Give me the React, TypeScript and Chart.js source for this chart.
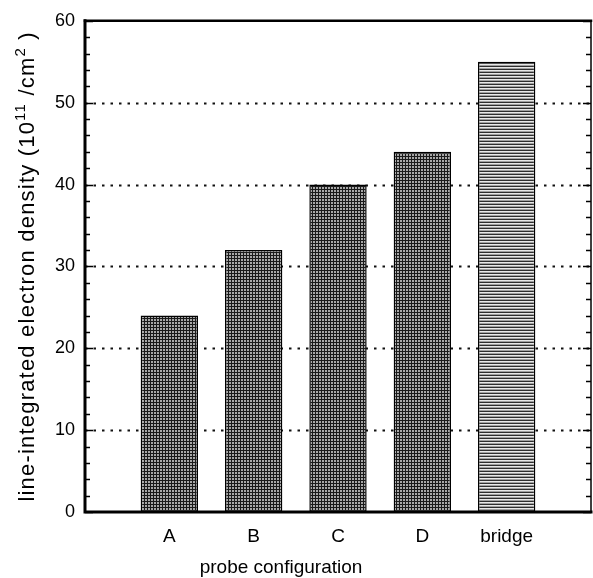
import React, { useEffect, useRef } from "react";
import { Chart, registerables } from "chart.js";

Chart.register(...registerables);

// ---- data ----
const categories = ["A", "B", "C", "D", "bridge"];
const categoryPositions = [1, 2, 3, 4, 5];
const densities = [24, 32, 40, 44, 55];
const gridValues = [10, 20, 30, 40, 50];
const yMin = 0;
const yMax = 60;
const yStep = 10;
const yMinorStep = 2;
const xMin = 0;
const xMax = 6;
const xTitle = "probe configuration";
const yTitleParts = [
  { text: "line-integrated electron density (10", sup: false },
  { text: "11", sup: true },
  { text: " /cm", sup: false },
  { text: "2", sup: true },
  { text: " )", sup: false },
];

const FONT = "'Liberation Sans', Arial, Helvetica, sans-serif";

function makeTile(w: number, h: number, draw: (c: CanvasRenderingContext2D) => void) {
  const cv = document.createElement("canvas");
  cv.width = w;
  cv.height = h;
  const c = cv.getContext("2d")!;
  draw(c);
  return cv;
}

const framePlugin = {
  id: "frame",
  beforeDatasetsDraw(chart: any) {
    const { ctx, chartArea: a, scales } = chart;
    const y = scales.y;
    ctx.save();
    ctx.strokeStyle = "#111";
    ctx.lineWidth = 2;
    ctx.setLineDash([2.5, 6]);
    for (const v of gridValues) {
      const py = Math.round(y.getPixelForValue(v)) + 0.5;
      ctx.beginPath();
      ctx.moveTo(a.left, py);
      ctx.lineTo(a.right, py);
      ctx.stroke();
    }
    ctx.restore();
  },
  afterDatasetsDraw(chart: any) {
    const { ctx, chartArea: a, scales } = chart;
    const y = scales.y;
    ctx.save();
    ctx.strokeStyle = "#000";
    ctx.lineWidth = 1.5;
    for (let v = yMin; v <= yMax; v += yMinorStep) {
      const py = Math.round(y.getPixelForValue(v)) + 0.5;
      const len = v % yStep === 0 ? 8 : 5;
      ctx.beginPath();
      ctx.moveTo(a.left, py);
      ctx.lineTo(a.left + len, py);
      ctx.moveTo(a.right, py);
      ctx.lineTo(a.right - len, py);
      ctx.stroke();
    }
    // frame
    ctx.lineCap = "square";
    ctx.lineWidth = 3;
    ctx.beginPath();
    ctx.moveTo(a.left, a.top);
    ctx.lineTo(a.left, a.bottom);
    ctx.lineTo(a.right, a.bottom);
    ctx.stroke();
    ctx.lineWidth = 2.5;
    ctx.beginPath();
    ctx.moveTo(a.left, a.top);
    ctx.lineTo(a.right, a.top);
    ctx.stroke();
    ctx.lineWidth = 1.5;
    ctx.beginPath();
    ctx.moveTo(a.right, a.top);
    ctx.lineTo(a.right, a.bottom);
    ctx.stroke();
    ctx.restore();
  },
  afterDraw(chart: any) {
    const { ctx, chartArea: a } = chart;
    ctx.save();
    ctx.fillStyle = "#000";
    // x title
    ctx.font = `19px ${FONT}`;
    ctx.textAlign = "center";
    ctx.textBaseline = "alphabetic";
    ctx.fillText(xTitle, 281, 573);
    // y title, rotated with superscripts
    const base = `22px ${FONT}`;
    const sup = `15px ${FONT}`;
    (ctx as any).letterSpacing = "1.2px";
    let total = 0;
    for (const p of yTitleParts) {
      ctx.font = p.sup ? sup : base;
      total += ctx.measureText(p.text).width;
    }
    ctx.translate(34, (a.top + a.bottom) / 2);
    ctx.rotate(-Math.PI / 2);
    ctx.textAlign = "left";
    let x = -total / 2;
    for (const p of yTitleParts) {
      ctx.font = p.sup ? sup : base;
      ctx.fillText(p.text, x, p.sup ? -9 : 0);
      x += ctx.measureText(p.text).width;
    }
    (ctx as any).letterSpacing = "0px";
    ctx.restore();
  },
};

export default function App() {
  const ref = useRef<HTMLCanvasElement | null>(null);
  useEffect(() => {
    const canvas = ref.current!;
    const ctx = canvas.getContext("2d")!;
    const hatch = makeTile(3, 3, (c) => {
      c.fillStyle = "#a8a8a8";
      c.fillRect(0, 0, 3, 3);
      c.fillStyle = "#1a1a1a";
      c.fillRect(0, 0, 3, 1);
      c.fillRect(0, 0, 1, 3);
    });
    const lines = makeTile(4, 3, (c) => {
      c.fillStyle = "#e8e8e8";
      c.fillRect(0, 0, 4, 3);
      c.fillStyle = "#2e2e2e";
      c.fillRect(0, 0, 4, 1);
      c.fillStyle = "#a0a0a0";
      c.fillRect(0, 2, 4, 1);
    });
    const hatchPat = ctx.createPattern(hatch, "repeat")!;
    const linesPat = ctx.createPattern(lines, "repeat")!;
    const fills = categories.map((c) => (c === "bridge" ? linesPat : hatchPat));

    const chart = new Chart(canvas, {
      type: "bar",
      data: {
        datasets: [
          {
            data: categoryPositions.map((x, i) => ({ x, y: densities[i] })),
            backgroundColor: fills,
            borderColor: "#000",
            borderWidth: 1.5,
            borderSkipped: false,
            categoryPercentage: 1,
            barPercentage: 0.68,
          },
        ],
      },
      options: {
        animation: false,
        responsive: true,
        maintainAspectRatio: false,
        layout: { padding: { left: 0, top: 17, right: 2, bottom: 0 } },
        plugins: {
          legend: { display: false },
          tooltip: { enabled: false },
          title: { display: false },
        },
        scales: {
          x: {
            type: "linear",
            min: xMin,
            max: xMax,
            offset: false,
            grid: { display: false, drawTicks: false, offset: false },
            border: { display: false },
            afterBuildTicks: (scale: any) => {
              scale.ticks = categoryPositions.map((v) => ({ value: v }));
            },
            afterFit: (scale: any) => {
              scale.height = 66;
            },
            ticks: {
              autoSkip: false,
              maxRotation: 0,
              padding: 13,
              color: "#000",
              font: { family: FONT, size: 19 },
              callback: (v: any) => categories[categoryPositions.indexOf(Number(v))] ?? "",
            },
          },
          y: {
            type: "linear",
            min: yMin,
            max: yMax,
            grid: { display: false, drawTicks: false },
            border: { display: false },
            afterFit: (scale: any) => {
              scale.width = 85;
            },
            ticks: {
              stepSize: yStep,
              padding: 10,
              color: "#000",
              font: { family: FONT, size: 18 },
            },
          },
        },
      },
      plugins: [framePlugin],
    } as any);
    return () => chart.destroy();
  }, []);
  return (
    <div style={{ position: "fixed", left: 0, top: 0, width: 593, height: 578, background: "#fff" }}>
      <canvas ref={ref} />
    </div>
  );
}
